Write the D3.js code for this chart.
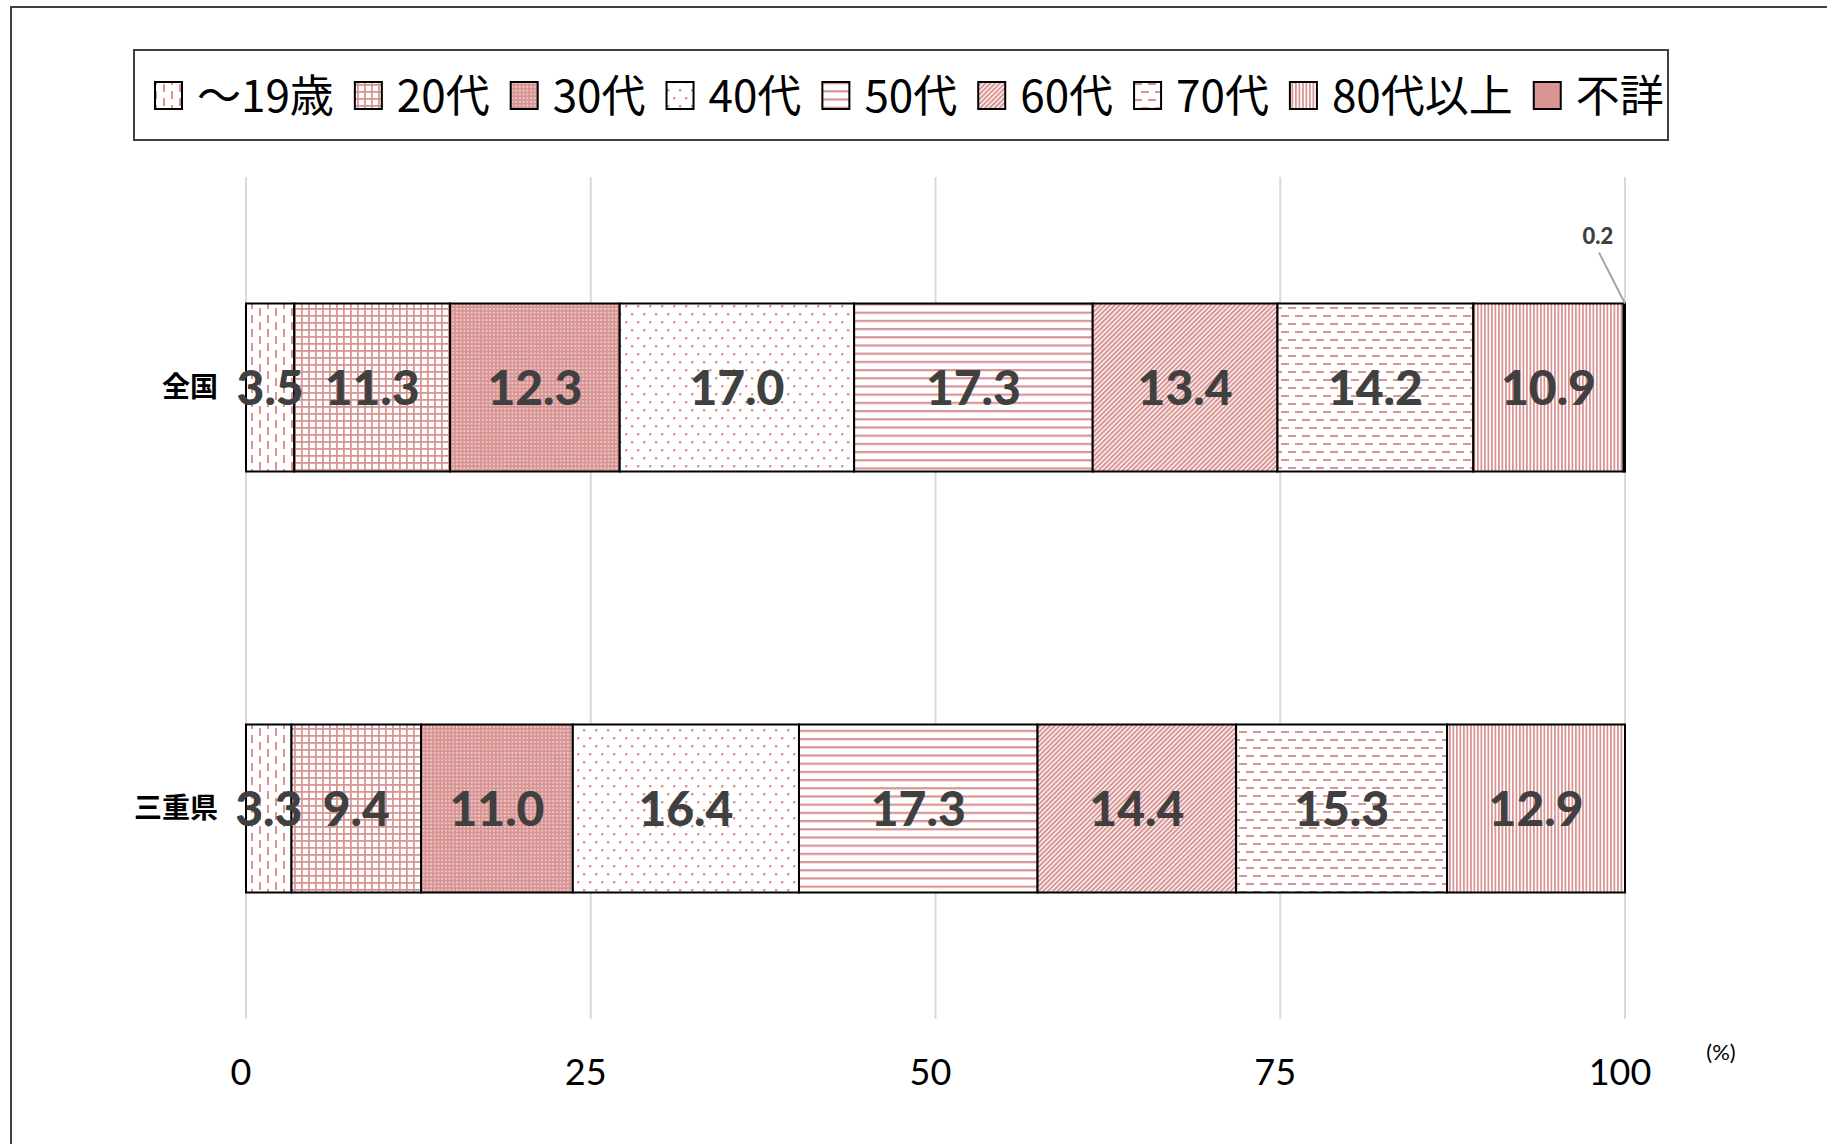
<!DOCTYPE html>
<html>
<head>
<meta charset="utf-8">
<script src="https://cdn.jsdelivr.net/npm/d3@7"></script>
<style>
  body { margin: 0; background: #fff; }
  svg { display: block; }
</style>
</head>
<body>
<svg id="canvas" width="1827" height="1144"></svg>
<script>

// data
const categories = ["全国", "三重県"];
const ageGroups = ["～19歳", "20代", "30代", "40代", "50代", "60代", "70代", "80代以上", "不詳"];
const zenkoku = [3.5, 11.3, 12.3, 17.0, 17.3, 13.4, 14.2, 10.9, 0.2];
const mie = [3.3, 9.4, 11.0, 16.4, 17.3, 14.4, 15.3, 12.9, 0];
const xTicks = [0, 25, 50, 75, 100];

const pink = "#D99594";
const svg = d3.select('#canvas');

// hatch patterns, one per age group
const defs = svg.append('defs');
function pattern(id, w, h, rot){
    let p = defs.append('pattern')
        .attr('id', id)
        .attr('patternUnits', 'userSpaceOnUse')
        .attr('width', w).attr('height', h);
    if (rot) p.attr('patternTransform', 'rotate(' + rot + ')');
    p.append('rect').attr('width', w).attr('height', h).attr('fill', 'white');
    return p;
}
let p;
// ~19: vertical dashes
p = pattern('p0', 16, 14);
p.append('rect').attr('x', 3).attr('y', 0).attr('width', 2).attr('height', 8).attr('fill', pink);
p.append('rect').attr('x', 11).attr('y', 7).attr('width', 2).attr('height', 7).attr('fill', pink);
p.append('rect').attr('x', 11).attr('y', 0).attr('width', 2).attr('height', 1).attr('fill', pink);
// 20: grid
p = pattern('p1', 7, 7);
p.append('rect').attr('x', 0).attr('y', 0).attr('width', 1.8).attr('height', 7).attr('fill', pink);
p.append('rect').attr('x', 0).attr('y', 0).attr('width', 7).attr('height', 1.8).attr('fill', pink);
// 30: dense
p = pattern('p2', 3.7, 3.7);
p.select('rect').attr('fill', pink);
p.append('rect').attr('x', 1.2).attr('y', 1.2).attr('width', 1.3).attr('height', 1.3).attr('fill', 'white');
// 40: sparse dots
p = pattern('p3', 12, 16);
p.append('rect').attr('x', 1).attr('y', 1).attr('width', 2.4).attr('height', 2.4).attr('fill', pink);
p.append('rect').attr('x', 7).attr('y', 9).attr('width', 2.4).attr('height', 2.4).attr('fill', pink);
// 50: horizontal lines
p = pattern('p4', 8, 8.2);
p.append('rect').attr('x', 0).attr('y', 0).attr('width', 8).attr('height', 2.2).attr('fill', pink);
// 60: diagonal
p = pattern('p5', 3.4, 10, 45);
p.append('rect').attr('x', 0).attr('y', 0).attr('width', 2.1).attr('height', 10).attr('fill', pink);
// 70: horizontal dashes
p = pattern('p6', 14, 16);
p.append('rect').attr('x', 0).attr('y', 3).attr('width', 8).attr('height', 2).attr('fill', pink);
p.append('rect').attr('x', 7).attr('y', 11).attr('width', 7).attr('height', 2).attr('fill', pink);
p.append('rect').attr('x', 0).attr('y', 11).attr('width', 1).attr('height', 2).attr('fill', pink);
// 80+: vertical lines
p = pattern('p7', 3.5, 8);
p.append('rect').attr('x', 0).attr('y', 0).attr('width', 1.8).attr('height', 8).attr('fill', pink);

const fills = ageGroups.map((g, i) => i < 8 ? 'url(#p' + i + ')' : pink);

// outer frame
svg.append('rect')
    .attr('x', 11).attr('y', 7)
    .attr('width', 1840).attr('height', 1160)
    .attr('fill', 'none').attr('stroke', '#404040').attr('stroke-width', 2);

// scales
const x = d3.scaleLinear().domain([0, 100]).range([246, 1625]).clamp(true);
const y = d3.scalePoint().domain(categories).range([177, 1019]).padding(0.5);
const barH = 168;

// gridlines
svg.append('g').selectAll('line')
    .data(xTicks)
    .join('line')
    .attr('x1', d => x(d)).attr('x2', d => x(d))
    .attr('y1', 177).attr('y2', 1019)
    .attr('stroke', '#d9d9d9').attr('stroke-width', 2);

// tick labels
svg.append('g').selectAll('text')
    .data(xTicks)
    .join('text')
    .attr('x', d => x(d) - 5)
    .attr('y', 1085)
    .attr('text-anchor', 'middle')
    .attr('font-family', 'Lato, "Noto Sans", sans-serif')
    .attr('font-size', 36)
    .attr('fill', '#000')
    .text(d => d);

svg.append('text')
    .attr('x', 1721).attr('y', 1060)
    .attr('text-anchor', 'middle')
    .attr('font-family', 'Lato, "Noto Sans", sans-serif')
    .attr('font-size', 22)
    .text('(%)');

// stack the two rows
const rows = [zenkoku, mie];
let segs = [];
rows.forEach((vals, r) => {
    let acc = 0;
    vals.forEach((v, i) => {
        segs.push({cat: categories[r], group: i, v: v, x0: acc, x1: acc + v});
        acc += v;
    });
});

svg.append('g').selectAll('rect')
    .data(segs.filter(d => d.v > 0))
    .join('rect')
    .attr('x', d => x(d.x0))
    .attr('y', d => y(d.cat) - barH / 2)
    .attr('width', d => x(d.x1) - x(d.x0))
    .attr('height', barH)
    .attr('fill', d => fills[d.group])
    .attr('stroke', '#000')
    .attr('stroke-width', 2);

// category labels
svg.append('g').selectAll('text')
    .data(categories)
    .join('text')
    .attr('x', 218)
    .attr('y', d => y(d))
    .attr('dy', '0.35em')
    .attr('text-anchor', 'end')
    .attr('font-family', '"Noto Sans CJK JP", sans-serif')
    .attr('font-weight', 'bold')
    .attr('font-size', 28)
    .text(d => d);

// value labels inside segments
svg.append('g').selectAll('text')
    .data(segs.filter(d => d.v >= 1))
    .join('text')
    .attr('x', d => (x(d.x0) + x(d.x1)) / 2)
    .attr('y', d => y(d.cat))
    .attr('dy', '0.36em')
    .attr('text-anchor', 'middle')
    .attr('font-family', 'Lato, "Noto Sans", sans-serif')
    .attr('font-weight', 900)
    .attr('font-size', 48)
    .attr('fill', '#404040')
    .text(d => d.v.toFixed(1));

// tiny segments get a callout above the bar
let tiny = segs.filter(d => d.v > 0 && d.v < 1);
svg.append('g').selectAll('line')
    .data(tiny)
    .join('line')
    .attr('x1', d => x(d.x1) - 26).attr('y1', d => y(d.cat) - barH / 2 - 51)
    .attr('x2', d => x(d.x1)).attr('y2', d => y(d.cat) - barH / 2)
    .attr('stroke', '#a6a6a6').attr('stroke-width', 2);
svg.append('g').selectAll('text')
    .data(tiny)
    .join('text')
    .attr('x', d => x(d.x1) - 27)
    .attr('y', d => y(d.cat) - barH / 2 - 60)
    .attr('text-anchor', 'middle')
    .attr('font-family', 'Lato, "Noto Sans", sans-serif')
    .attr('font-weight', 900)
    .attr('font-size', 22)
    .attr('fill', '#404040')
    .text(d => d.v.toFixed(1));

// legend
svg.append('rect')
    .attr('x', 134).attr('y', 50)
    .attr('width', 1534).attr('height', 90)
    .attr('fill', 'white').attr('stroke', '#404040').attr('stroke-width', 2);

let legend = svg.append('g');
let lx = 155;
ageGroups.forEach((g, i) => {
    legend.append('rect')
        .attr('x', lx).attr('y', 82)
        .attr('width', 27).attr('height', 27)
        .attr('fill', fills[i])
        .attr('stroke', '#000').attr('stroke-width', 2);
    let t = legend.append('text')
        .attr('x', lx + 42).attr('y', 96)
        .attr('dy', '0.36em')
        .attr('font-family', '"Noto Sans CJK JP", sans-serif')
        .attr('font-size', 44)
        .attr('fill', '#000')
        .text(g);
    lx += 42 + t.node().getComputedTextLength() + 21;
});

</script>
</body>
</html>
